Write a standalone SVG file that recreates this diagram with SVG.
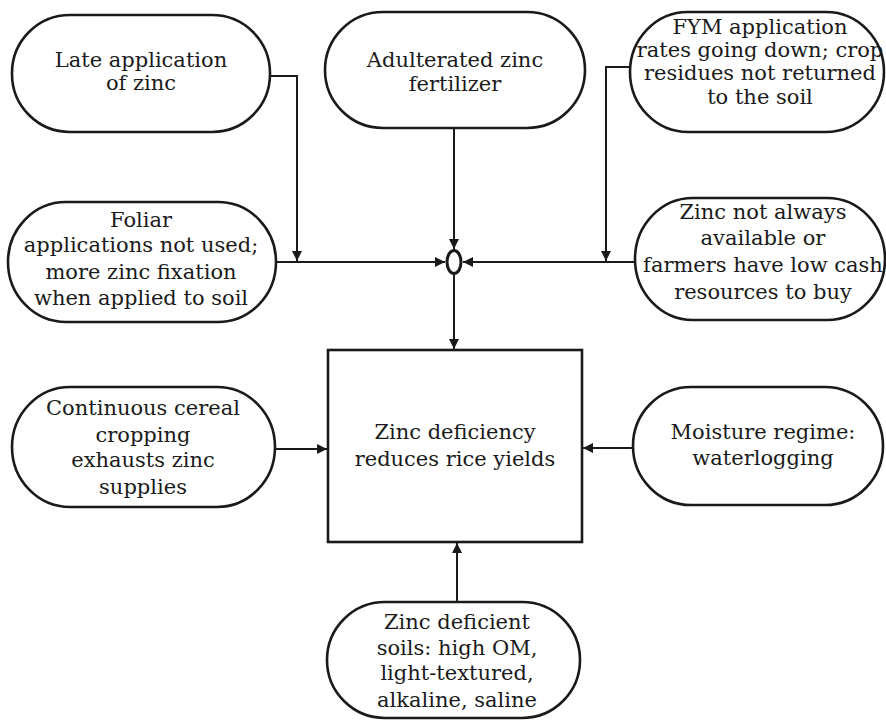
<svg xmlns="http://www.w3.org/2000/svg" width="886" height="720" viewBox="0 0 886 720">
  <style>
    .pill { fill: #fff; stroke: #1a1a1a; stroke-width: 2.6; }
    .box { fill: #fff; stroke: #1a1a1a; stroke-width: 2.6; }
    .lbl { font-family: "DejaVu Serif", "Liberation Serif", serif; font-size: 21px; fill: #1a1a1a; text-anchor: middle; }
    .wire { fill: none; stroke: #1a1a1a; stroke-width: 2; }
  </style>
  <defs>
    <marker id="arrow" viewBox="0 0 10 10" refX="10" refY="5" markerWidth="11" markerHeight="10" markerUnits="userSpaceOnUse" orient="auto">
      <path d="M0,0 L10,5 L0,10 z" fill="#1a1a1a"/>
    </marker>
  </defs>

  <rect width="886" height="720" fill="#fff"/>

  <g id="connectors">
    <path class="wire" d="M270,76 H297 V261" marker-end="url(#arrow)"/>
    <path class="wire" d="M630,67 H606 V261" marker-end="url(#arrow)"/>
    <path class="wire" d="M276,262 H445" marker-end="url(#arrow)"/>
    <path class="wire" d="M635,262 H463" marker-end="url(#arrow)"/>
    <path class="wire" d="M454,128 V249" marker-end="url(#arrow)"/>
    <path class="wire" d="M454,275 V349" marker-end="url(#arrow)"/>
    <path class="wire" d="M275,449 H327" marker-end="url(#arrow)"/>
    <path class="wire" d="M633,448 H583" marker-end="url(#arrow)"/>
    <path class="wire" d="M457,602 V543" marker-end="url(#arrow)"/>
  </g>

  <g id="junction">
    <ellipse cx="454" cy="262" rx="7" ry="11.5" fill="#fff" stroke="#1a1a1a" stroke-width="3"/>
  </g>

  <g id="late-application">
    <rect class="pill" x="12" y="15" width="258" height="117" rx="58" ry="58"/>
    <text class="lbl" x="141" y="67">Late application</text>
    <text class="lbl" x="141" y="90">of zinc</text>
  </g>

  <g id="adulterated">
    <rect class="pill" x="325" y="12" width="260" height="116" rx="58" ry="58"/>
    <text class="lbl" x="455" y="67">Adulterated zinc</text>
    <text class="lbl" x="455" y="91">fertilizer</text>
  </g>

  <g id="fym">
    <rect class="pill" x="630" y="12" width="254" height="120" rx="58" ry="60"/>
    <text class="lbl" x="760" y="34">FYM application</text>
    <text class="lbl" x="760" y="57">rates going down; crop</text>
    <text class="lbl" x="760" y="80">residues not returned</text>
    <text class="lbl" x="760" y="104">to the soil</text>
  </g>

  <g id="foliar">
    <rect class="pill" x="8" y="202" width="268" height="120" rx="58" ry="60"/>
    <text class="lbl" x="141" y="227">Foliar</text>
    <text class="lbl" x="141" y="252">applications not used;</text>
    <text class="lbl" x="141" y="279">more zinc fixation</text>
    <text class="lbl" x="141" y="305">when applied to soil</text>
  </g>

  <g id="availability">
    <rect class="pill" x="635" y="198" width="250" height="122" rx="58" ry="61"/>
    <text class="lbl" x="763" y="219">Zinc not always</text>
    <text class="lbl" x="763" y="245">available or</text>
    <text class="lbl" x="763" y="272">farmers have low cash</text>
    <text class="lbl" x="763" y="299">resources to buy</text>
  </g>

  <g id="zinc-deficiency">
    <rect class="box" x="328" y="350" width="254" height="192"/>
    <text class="lbl" x="455" y="439">Zinc deficiency</text>
    <text class="lbl" x="455" y="466">reduces rice yields</text>
  </g>

  <g id="continuous-cropping">
    <rect class="pill" x="12" y="387" width="263" height="120" rx="58" ry="60"/>
    <text class="lbl" x="143" y="415">Continuous cereal</text>
    <text class="lbl" x="143" y="442">cropping</text>
    <text class="lbl" x="143" y="467">exhausts zinc</text>
    <text class="lbl" x="143" y="494">supplies</text>
  </g>

  <g id="moisture">
    <rect class="pill" x="633" y="387" width="250" height="118" rx="58" ry="59"/>
    <text class="lbl" x="763" y="439">Moisture regime:</text>
    <text class="lbl" x="763" y="465">waterlogging</text>
  </g>

  <g id="deficient-soils">
    <rect class="pill" x="327" y="602" width="253" height="116" rx="58" ry="58"/>
    <text class="lbl" x="457" y="629">Zinc deficient</text>
    <text class="lbl" x="457" y="655">soils: high OM,</text>
    <text class="lbl" x="457" y="680">light-textured,</text>
    <text class="lbl" x="457" y="707">alkaline, saline</text>
  </g>
</svg>
